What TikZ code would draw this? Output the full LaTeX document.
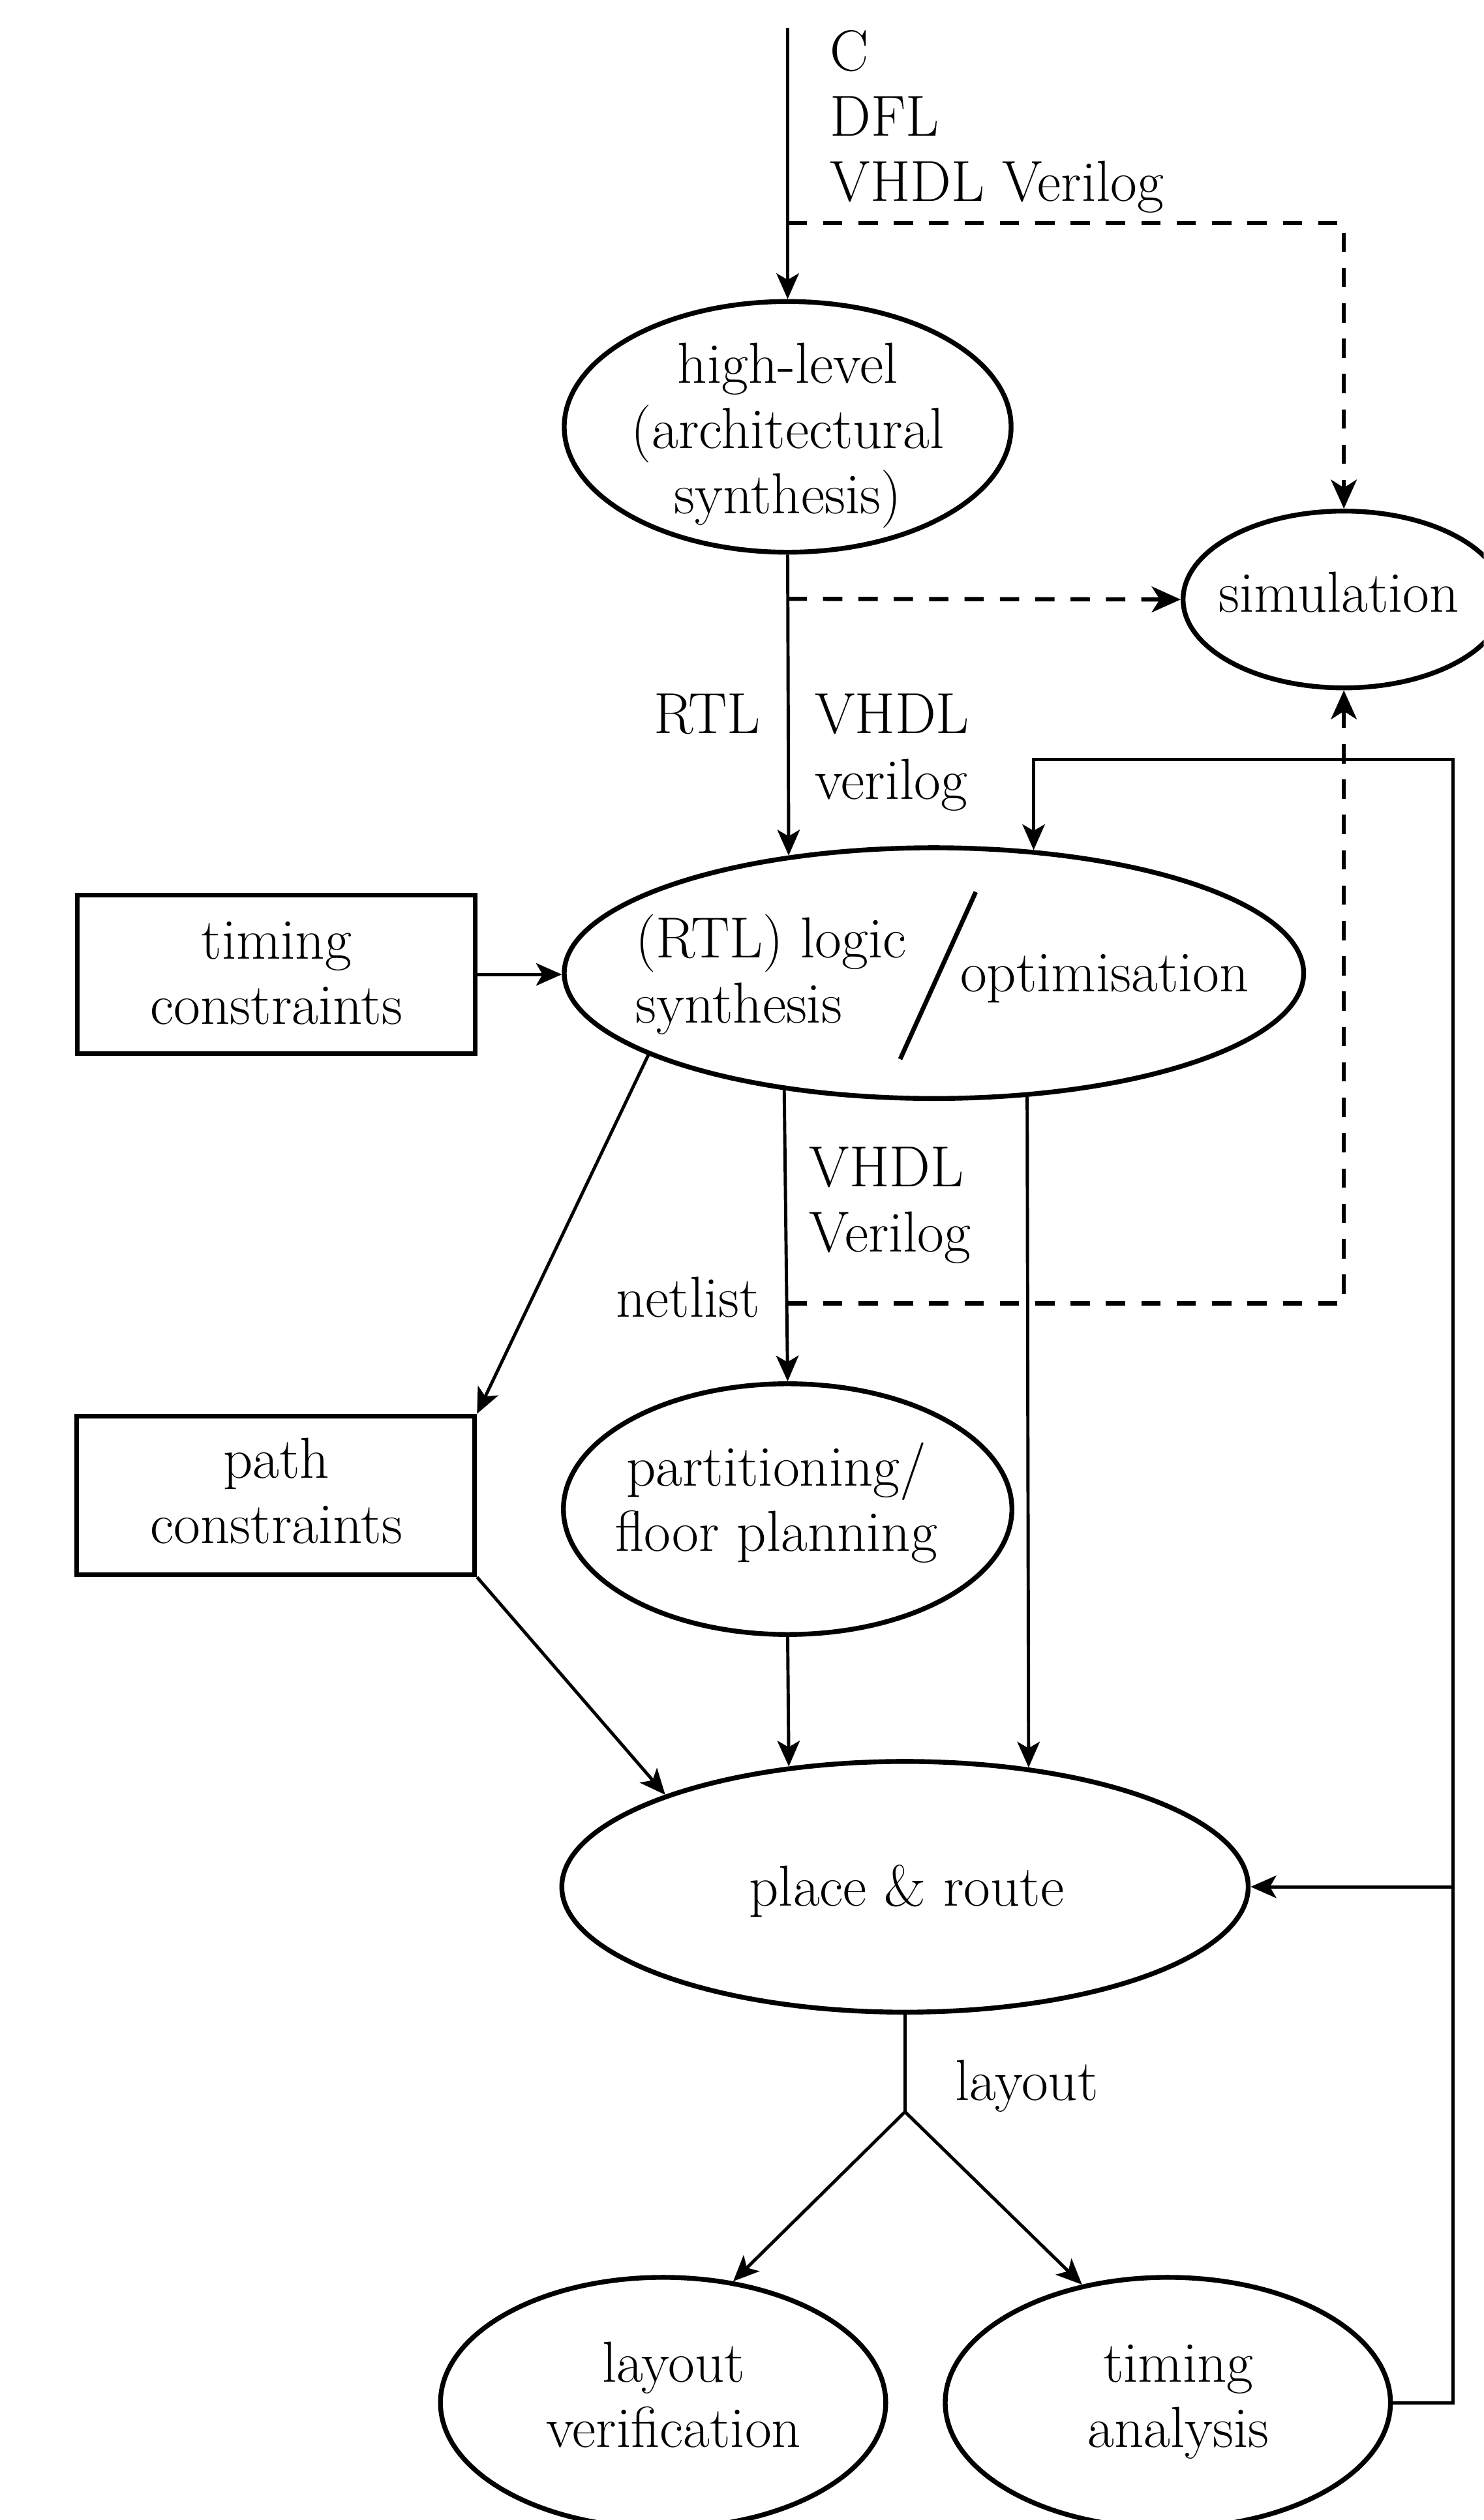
\documentclass[tikz,border=0pt]{standalone}
\usepackage{fontspec}
\usetikzlibrary{arrows.meta,shapes.geometric}

% multi-line labels whose reference point is the first baseline
\newcommand{\linesc}[1]{\begin{tabular}[t]{@{}c@{}}#1\end{tabular}}
\newcommand{\linesl}[1]{\begin{tabular}[t]{@{}l@{}}#1\end{tabular}}

\tikzset{
  ell/.style={draw, ellipse, line width=1.5pt, inner sep=0pt},
  rbox/.style={draw, rectangle, line width=1.5pt, inner sep=0pt,
               minimum width=123.75pt, minimum height=49.3pt},
  txt/.style={font=\fontsize{18}{20.3}\selectfont, inner sep=0pt},
  con/.style={line width=1pt},
  arr/.style={con, -{Stealth[length=8pt,width=7pt,inset=2pt]}},
  dsh/.style={line width=1.3pt, dash pattern=on 6pt off 5pt},
  darr/.style={dsh, -{Stealth[length=9pt,width=8pt,inset=2.5pt]}},
}

\begin{document}
\begin{tikzpicture}[x=0.5pt, y=-0.5pt]
\useasboundingbox (0,0) rectangle (923,1568);
\clip (0,0) rectangle (923,1568);

% ---- process ellipses ----
\node[ell, minimum width=139pt,   minimum height=78pt] (hl)    at (490,265.6) {};
\node[ell, minimum width=100pt,   minimum height=55pt] (sim)   at (836,373) {};
\node[ell, minimum width=230pt,   minimum height=78pt] (logic) at (581,605.5) {};
\node[ell, minimum width=139.5pt, minimum height=78pt] (part)  at (490,939) {};
\node[ell, minimum width=213.5pt, minimum height=78pt] (pr)    at (563,1174) {};
\node[ell, minimum width=138.5pt, minimum height=78pt] (lv)    at (412.5,1495) {};
\node[ell, minimum width=138.5pt, minimum height=78pt] (ta)    at (726.5,1495) {};

% ---- constraint boxes ----
\node[rbox] (tc) at (171.75,606.3) {};
\node[rbox] (pc) at (171.5,930.5) {};

% ---- texts inside shapes ----
\node[txt, anchor=base] (hlt) at (490,238.5) {\linesc{high-level\\(architectural\\synthesis)}};
\node[txt, anchor=base] (simt) at (833,381) {simulation};
\node[txt, anchor=base west] (logt) at (395,596) {\linesl{(RTL) logic\\synthesis}};
\node[txt, anchor=base west] (optt) at (597,617) {optimisation};
\coordinate (slA) at (607,555);
\coordinate (slB) at (560,659);
\draw[line width=1.4pt] (slA) -- (slB);
\node[txt, anchor=base] (tct) at (172,596.7) {\linesc{timing\\constraints}};
\node[txt, anchor=base] (pct) at (172,919.8) {\linesc{path\\constraints}};
\node[txt, anchor=base] (partt) at (483,924.7) {\linesc{partitioning/\\floor planning}};
\node[txt, anchor=base] (prt) at (564,1186) {place \& route};
\node[txt, anchor=base] (lvt) at (419,1482) {\linesc{layout\\verification}};
\node[txt, anchor=base] (tat) at (733,1482) {\linesc{timing\\analysis}};

% ---- connector labels ----
\node[txt, anchor=base west] (srcl) at (516,44) {\linesl{C\\DFL\\VHDL Verilog}};
\node[txt, anchor=base east] (rtll) at (473.5,456.5) {RTL};
\node[txt, anchor=base west] (hdl1) at (506.5,456.5) {\linesl{VHDL\\verilog}};
\node[txt, anchor=base west] (hdl2) at (503,738.5) {\linesl{VHDL\\Verilog}};
\node[txt, anchor=base east] (netl) at (473,819.3) {netlist};
\node[txt, anchor=base west] (layl) at (594,1307) {layout};

% ---- connector points ----
\coordinate (src)   at (490,17.6);
\coordinate (tosim) at (490,138.7);
\coordinate (hlsim) at (490,372.6);
\coordinate (nlsim) at (490,811);
\coordinate (fbtop) at (904,472.5);
\coordinate (fbpr)  at (904,1174);
\coordinate (split) at (563,1314);

% ---- main flow ----
\draw[arr] (src) -- (hl.north);
\draw[arr] (hl.south) -- (logic.141.79);
\draw[arr] (tc.east) -- (tc.east -| logic.west);
\draw[arr] (logic.218.21) -- (part.north);
\draw[arr] (logic.-53.12) -- (pr.44.36);
\draw[arr] (logic.196.8) -- (pc.north east);
\draw[arr] (pc.south east) -- (pr.159);
\draw[arr] (part.south) -- (pr.134.88);
\draw[con] (pr.south) -- (split);
\draw[arr] (split) -- (lv.60);
\draw[arr] (split) -- (ta.126.5);

% ---- feedback from timing analysis ----
\draw[arr] (ta.east) -| (fbtop) -| (logic.51.45);
\draw[arr] (fbpr) -- (pr.east);

% ---- simulation paths ----
\draw[darr] (tosim) -| (sim.north);
\draw[darr] (hlsim) -- (sim.west);
\draw[darr] (nlsim) -| (sim.south);
\end{tikzpicture}
\end{document}
